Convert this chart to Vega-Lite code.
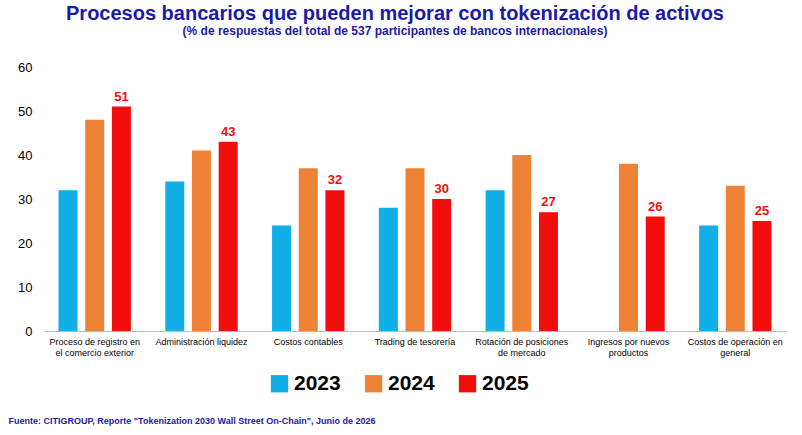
{
"$schema":"https://vega.github.io/schema/vega-lite/v6.json",
"width":742,"height":264,
"padding":{"left":8,"top":4,"right":12,"bottom":4},
"background":"#ffffff",
"title":{"text":"Procesos bancarios que pueden mejorar con tokenización de activos","subtitle":"(% de respuestas del total de 537 participantes de bancos internacionales)","font":"Liberation Sans","fontSize":20,"fontWeight":"bold","color":"#1a1aa8","subtitleFont":"Liberation Sans","subtitleFontSize":12,"subtitleFontWeight":"bold","subtitleColor":"#1a1aa8","anchor":"middle","dx":-20,"offset":24,"subtitlePadding":2},
"data":{"values":[
{"p":"Proceso de registro en|el comercio exterior","y":"2023","v":32},{"p":"Proceso de registro en|el comercio exterior","y":"2024","v":48},{"p":"Proceso de registro en|el comercio exterior","y":"2025","v":51},
{"p":"Administración liquidez","y":"2023","v":34},{"p":"Administración liquidez","y":"2024","v":41},{"p":"Administración liquidez","y":"2025","v":43},
{"p":"Costos contables","y":"2023","v":24},{"p":"Costos contables","y":"2024","v":37},{"p":"Costos contables","y":"2025","v":32},
{"p":"Trading de tesorería","y":"2023","v":28},{"p":"Trading de tesorería","y":"2024","v":37},{"p":"Trading de tesorería","y":"2025","v":30},
{"p":"Rotación de posiciones|de mercado","y":"2023","v":32},{"p":"Rotación de posiciones|de mercado","y":"2024","v":40},{"p":"Rotación de posiciones|de mercado","y":"2025","v":27},
{"p":"Ingresos por nuevos|productos","y":"2024","v":38},{"p":"Ingresos por nuevos|productos","y":"2025","v":26},
{"p":"Costos de operación en|general","y":"2023","v":24},{"p":"Costos de operación en|general","y":"2024","v":33},{"p":"Costos de operación en|general","y":"2025","v":25}
]},
"encoding":{
"x":{"field":"p","type":"nominal","sort":null,"scale":{"paddingInner":0.25,"paddingOuter":0.1},
 "axis":{"title":"Fuente: CITIGROUP, Reporte \"Tokenization 2030 Wall Street On-Chain\", Junio de 2026","titleFont":"Liberation Sans","titleFontSize":9,"titleFontWeight":"bold","titleColor":"#1a1aa8","titleAnchor":"start","titleAlign":"left","titleX":-36,"titleY":85,"labelAngle":0,"labelExpr":"split(datum.label,'|')","labelFont":"Liberation Sans","labelFontSize":9,"labelColor":"#000","labelPadding":6,"domainColor":"#bbb","ticks":false}},
"xOffset":{"field":"y","type":"nominal"},
"y":{"field":"v","type":"quantitative","scale":{"domain":[0,60]},"axis":{"title":null,"tickCount":6,"grid":false,"domain":false,"ticks":false,"labelFont":"Liberation Sans","labelFontSize":13,"labelColor":"#000","labelPadding":12}}
},
"layer":[
{"mark":{"type":"bar","width":19},"encoding":{"color":{"field":"y","type":"nominal","scale":{"domain":["2023","2024","2025"],"range":["#12aee8","#ee8336","#f20d0d"]},"legend":{"title":null,"orient":"none","direction":"horizontal","legendX":225,"legendY":306,"symbolType":"square","symbolSize":300,"labelFont":"Liberation Sans","labelFontSize":21,"labelFontWeight":"bold","labelColor":"#000","columnPadding":22}}}},
{"transform":[{"filter":"datum.y=='2025'"}],"mark":{"type":"text","dy":-10,"font":"Liberation Sans","fontSize":13,"fontWeight":"bold","color":"#f20d0d"},"encoding":{"text":{"field":"v"}}}
],
"config":{"view":{"stroke":null}}
}
